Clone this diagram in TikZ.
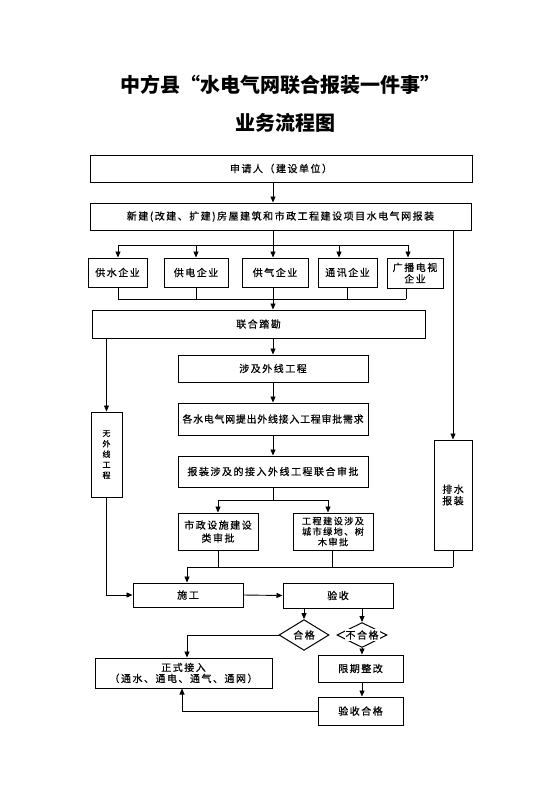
\documentclass[tikz,border=0pt]{standalone}
\usepackage{fontspec}
\usetikzlibrary{arrows.meta,shapes.geometric}
\newfontfamily\cjk[LetterSpace=15,FakeBold=0.5]{Noto Sans CJK SC}
\newfontfamily\cjktitle{Noto Sans CJK SC}
\newcommand\bodyfont{\cjk\fontsize{10}{11.5}\selectfont}
\newcommand\smallbody{\cjk\fontsize{9.2}{10.5}\selectfont}
\newcommand\vertfont{\cjk\fontsize{8}{10.5}\selectfont}
\newcommand\titlefont{\cjktitle\bfseries\fontsize{20}{22}\selectfont}
\begin{document}
\begin{tikzpicture}[x=1pt,y=-1pt,
  box/.style={draw,line width=1pt,inner sep=1pt,align=center,font=\bodyfont},
  ln/.style={line width=0.9pt},
  arr/.style={ln,-{Triangle[length=6pt,width=5pt]}},
  dia/.style={draw,line width=1pt,diamond,inner sep=0pt,minimum width=50pt,minimum height=25pt,font=\bodyfont}
]
\useasboundingbox (0,0) rectangle (559,793);
\fill[white] (0,0) rectangle (559,793);

% title
\node[font=\titlefont] (t1) at (280,85) {中方县“水电气网联合报装一件事”};
\node[font=\titlefont] (t2) at (285,123) {业务流程图};

% nodes
\node[box,minimum width=382pt,minimum height=27pt] (apply) at (281,168.5) {申请人（建设单位）};
\node[box,minimum width=381pt,minimum height=27pt] (report) at (280.5,216.5) {新建(改建、扩建)房屋建筑和市政工程建设项目水电气网报装};

\node[box,minimum width=59pt,minimum height=29pt] (water) at (117.5,272.5) {供水企业};
\node[box,minimum width=64pt,minimum height=29pt] (power) at (196,272.5) {供电企业};
\node[box,minimum width=66pt,minimum height=29pt] (gas) at (275,272.5) {供气企业};
\node[box,minimum width=59pt,minimum height=29pt] (tele) at (347.5,272.5) {通讯企业};
\node[box,minimum width=56pt,minimum height=30pt] (tv) at (415,273) {广播电视\\企业};

\node[box,minimum width=333pt,minimum height=28pt] (survey) at (258.5,324) {联合踏勘};
\node[box,minimum width=190pt,minimum height=27pt] (outer) at (273,368.5) {涉及外线工程};
\node[box,minimum width=190pt,minimum height=32pt,font={\bodyfont\addfontfeature{LetterSpace=7}}] (demand) at (273,419) {各水电气网提出外线接入工程审批需求};
\node[box,minimum width=190pt,minimum height=31pt] (joint) at (273,471.5) {报装涉及的接入外线工程联合审批};

\node[box,font=\vertfont,minimum width=31pt,minimum height=85pt] (noline) at (106.5,454.5) {无\\外\\线\\工\\程};
\node[box,minimum width=38pt,minimum height=110pt] (drain) at (453,495) {排水\\报装};

\node[box,minimum width=80pt,minimum height=37pt,font={\cjk\fontsize{10}{13}\selectfont}] (muni) at (218,531.5) {市政设施建设\\类审批};
\node[box,minimum width=80pt,minimum height=37pt,font=\smallbody] (green) at (333,531.5) {工程建设涉及\\城市绿地、树\\木审批};

\node[box,minimum width=110pt,minimum height=24pt] (build) at (188,595) {施工};
\node[box,minimum width=110pt,minimum height=25pt] (accept) at (338,595.5) {验收};

\node[dia] (ok) at (304,635) {合格};
\node[dia] (notok) at (362,635) {};
\node[fill=white,inner sep=1pt,font=\bodyfont] (notoklbl) at (notok.center) {不合格};

\node[box,minimum width=177pt,minimum height=30pt,font={\cjk\fontsize{10}{11}\selectfont}] (formal) at (183.5,673) {正式接入\\（通水、通电、通气、通网）};
\node[box,minimum width=85pt,minimum height=27pt] (rectify) at (360.5,668.5) {限期整改};
\node[box,minimum width=85pt,minimum height=28pt] (reaccept) at (360.5,711) {验收合格};

% helper coordinates
\coordinate (cx1) at (118,0);
\coordinate (cx2) at (196,0);
\coordinate (cx3) at (273,0);
\coordinate (cx4) at (339,0);
\coordinate (cx5) at (408,0);
\coordinate (cxb4) at (347,0);
\coordinate (cxb5) at (406,0);
\coordinate (cxr) at (453,0);
\coordinate (cxm) at (218,0);
\coordinate (cxg) at (328,0);
\coordinate (cxg2) at (332,0);
\coordinate (cxc) at (187,0);
\coordinate (cxf) at (182,0);
\coordinate (bus1) at (0,245);
\coordinate (bus2) at (0,299);
\coordinate (bus3) at (0,500);
\coordinate (bus4) at (0,567);

% connectors
\draw[arr] (apply.south -| cx3) -- (report.north -| cx3);
\draw[ln] (report.south -| cx3) -- (cx3 |- bus1);
\draw[ln] (cx1 |- bus1) -- (cx5 |- bus1);
\foreach \c/\n in {cx1/water,cx2/power,cx3/gas,cx4/tele,cx5/tv}
  \draw[arr] (\c |- bus1) -- (\n.north -| \c);
\draw[arr] (report.south -| cxr) -- (drain.north);
\foreach \c/\n in {cx1/water,cx2/power,cx3/gas,cxb4/tele,cxb5/tv}
  \draw[ln] (\n.south -| \c) -- (\c |- bus2);
\draw[ln] (cx1 |- bus2) -- (cxb5 |- bus2);
\draw[arr] (cx3 |- bus2) -- (survey.north -| cx3);
\draw[arr] (survey.south -| noline) -- (noline.north);
\draw[arr] (survey.south -| cx3) -- (outer.north);
\draw[arr] (outer.south) -- (demand.north);
\draw[arr] (demand.south) -- (joint.north);
\draw[ln] (joint.south) -- (cx3 |- bus3);
\draw[ln] (cxm |- bus3) -- (cxg |- bus3);
\draw[arr] (cxm |- bus3) -- (muni.north);
\draw[arr] (cxg |- bus3) -- (green.north -| cxg);
\draw[ln] (muni.south) -- (cxm |- bus4);
\draw[ln] (green.south -| cxg2) -- (cxg2 |- bus4);
\draw[ln] (drain.south) -- (drain.south |- bus4);
\draw[ln] (cxc |- bus4) -- (drain.south |- bus4);
\draw[arr] (cxc |- bus4) -- (build.north -| cxc);
\draw[arr] (noline.south) |- (build.west);
\draw[arr] (build.east) -- (accept.west);
\draw[arr] (accept.south -| ok) -- (ok.north);
\draw[arr] (accept.south -| notok) -- (notok.north);
\draw[arr] (ok.west) -| (formal.north -| cxc);
\draw[arr] (notok.south) -- (rectify.north -| notok);
\draw[arr] (rectify.south -| notok) -- (reaccept.north -| notok);
\draw[arr] (reaccept.west) -| (formal.south -| cxf);
\end{tikzpicture}
\end{document}
